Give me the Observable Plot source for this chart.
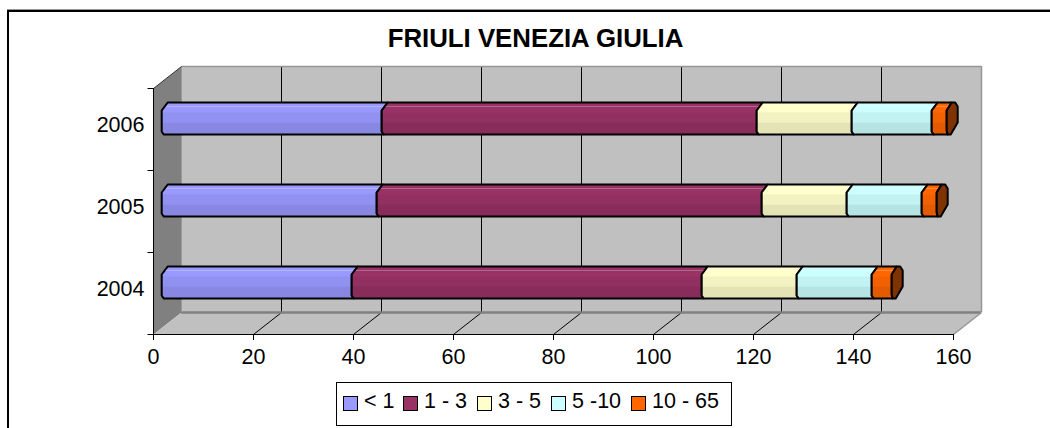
<!DOCTYPE html>
<html>
<head>
<meta charset="utf-8">
<script src="https://cdn.jsdelivr.net/npm/d3@7"></script>
<script src="https://cdn.jsdelivr.net/npm/@observablehq/plot@0.6"></script>
<style>
  html, body { margin: 0; padding: 0; background: #fff; overflow: hidden; }
  body { position: relative; width: 1050px; height: 428px; font-family: "Liberation Sans", Arial, sans-serif; color: #000; }
  #chart { position: absolute; left: 0; top: 0; }
  #frame { position: absolute; left: 7px; top: 9px; right: 0; bottom: 0; border-top: 1px solid #999; }
  #frame::before { content: ""; position: absolute; left: 0; top: 0; right: 0; bottom: 0; border-top: 2px solid #000; border-left: 2px solid #000; }
  h1 { position: absolute; left: 0; width: 1071px; top: 24px; margin: 0; text-align: center; font-size: 25.8px; line-height: 28px; font-weight: bold; }
  #legend { position: absolute; left: 336px; top: 382px; width: 396px; height: 44px; border: 1px solid #000; background: #fff; display: flex; padding: 6px 0 0 6px; box-sizing: border-box; align-items: flex-start; font-size: 21.5px; line-height: 24px; white-space: pre; }
  #legend i { display: block; width: 13px; height: 13px; border: 1.5px solid #000; margin: 7px 6px 0 0; flex: none; }
  #legend span { margin-right: 10px; }
  #legend span:first-of-type { margin-right: 8.5px; }
</style>
</head>
<body>
<div id="frame"></div>
<div id="chart"></div>
<h1>FRIULI VENEZIA GIULIA</h1>
<div id="legend"></div>
<script>
const years = ["2004", "2005", "2006"];
const ranges = ["< 1", "1 - 3", "3 - 5", "5 -10", "10 - 65"];
const under1 = [38, 43, 44];
const from1to3 = [70, 77, 75];
const from3to5 = [19, 17, 19];
const from5to10 = [15, 15, 16];
const from10to65 = [4, 3, 3];
const series = [under1, from1to3, from3to5, from5to10, from10to65];
const palette = ["#9999ff", "#993366", "#ffffcc", "#ccffff", "#ff6600"];
const capColor = "#7f3300";
const xTicks = [0, 20, 40, 60, 80, 100, 120, 140, 160];

// layout constants
const W = 1050, H = 428;
const pxLeft = 153, pxRight = 953, pxTop = 88, pxBottom = 334;
const kx = (pxRight - pxLeft) / 160;
const ky = (pxBottom - pxTop) / 3;
const depthX = 28 / kx, depthY = 22 / ky;
const barX = 8.2, barUp = 36;

const X = (v, off = 0) => v + (barX + off) / kx;
const Y = (row, up) => row + (barUp + up) / ky;
const poly = (pts, opts) => Plot.line(pts, {x: "x", y: "y", curve: "linear-closed", ...opts});
const shade = (c, f) => { const r = d3.rgb(c); return d3.rgb(r.r * f, r.g * f, r.b * f).formatHex(); };
const tint = (c, t) => d3.interpolateRgb(c, "#fff")(t);

const leftEdge = (v, row) => [
  {x: X(v, 6), y: Y(row, 32)}, {x: X(v, 0), y: Y(row, 24)},
  {x: X(v, 0), y: Y(row, 3)}, {x: X(v, 2), y: Y(row, 0)}
];

const bars = [];
years.forEach((_, row) => {
  let start = 0;
  series.forEach((s, k) => {
    const a = start, b = start + s[row];
    const c = palette[k];
    const last = k === series.length - 1;
    const rightEdge = last
      ? [{x: X(b, 1), y: Y(row, 0)}, {x: X(b, 0), y: Y(row, 4)}, {x: X(b, 0), y: Y(row, 24)}, {x: X(b, 5), y: Y(row, 32)}]
      : leftEdge(b, row).reverse();
    const outline = [...leftEdge(a, row), ...rightEdge];
    bars.push(poly(outline, {fill: c}));
    bars.push(poly([
      {x: X(a), y: Y(row, 22)}, {x: X(a), y: Y(row, 12)}, {x: X(b), y: Y(row, 12)}, {x: X(b), y: Y(row, 22)}
    ], {fill: shade(c, 0.95)}));
    bars.push(poly([
      {x: X(a), y: Y(row, 12)}, {x: X(a), y: Y(row, 3)}, {x: X(a, 2), y: Y(row, 0)},
      {x: X(b, 2), y: Y(row, 0)}, {x: X(b), y: Y(row, 3)}, {x: X(b), y: Y(row, 12)}
    ], {fill: shade(c, 0.89)}));
    bars.push(Plot.ruleY([Y(row, 28)], {x1: X(a, 4), x2: X(b, 3), stroke: tint(c, 0.25), strokeWidth: 1}));
    bars.push(poly(outline, {fill: "none", stroke: "#000", strokeWidth: 2, strokeLinejoin: "round"}));
    if (last) {
      bars.push(poly([
        {x: X(b, 5), y: Y(row, 32)}, {x: X(b, 8.5), y: Y(row, 32)}, {x: X(b, 11), y: Y(row, 28)},
        {x: X(b, 11), y: Y(row, 12)}, {x: X(b, 4), y: Y(row, 0)}, {x: X(b, 1), y: Y(row, 0)},
        {x: X(b, 0), y: Y(row, 4)}, {x: X(b, 0), y: Y(row, 24)}
      ], {fill: capColor, stroke: "#000", strokeWidth: 2, strokeLinejoin: "round"}));
    }
    start = b;
  });
});

const inner = xTicks.slice(1, -1);
const plot = Plot.plot({
  width: W, height: H,
  marginLeft: pxLeft, marginRight: W - pxRight, marginTop: pxTop, marginBottom: H - pxBottom,
  style: {fontFamily: '"Liberation Sans", Arial, sans-serif', background: "transparent", color: "#000"},
  x: {domain: [0, 160], ticks: xTicks},
  y: {domain: [0, 3]},
  marks: [
    // left wall
    poly([{x: 0, y: 0}, {x: depthX, y: depthY}, {x: depthX, y: 3 + depthY}, {x: 0, y: 3}], {fill: "#808080"}),
    // back wall
    poly([{x: depthX, y: depthY}, {x: 160 + depthX, y: depthY}, {x: 160 + depthX, y: 3 + depthY}, {x: depthX, y: 3 + depthY}], {fill: "#c0c0c0"}),
    // floor
    poly([{x: 0, y: 0}, {x: 160, y: 0}, {x: 160 + depthX, y: depthY}, {x: depthX, y: depthY}], {fill: "#c0c0c0"}),
    // grid on wall and floor
    Plot.ruleX(inner, {x: d => d + depthX, y1: depthY, y2: 3 + depthY, stroke: "#000", strokeWidth: 1}),
    Plot.link(inner, {x1: d => d, y1: 0, x2: d => d + depthX, y2: depthY, stroke: "#000", strokeWidth: 1}),
    // wall edges
    Plot.ruleY([depthY], {x1: depthX, x2: 160 + depthX, stroke: "#808080", strokeWidth: 2.5}),
    Plot.ruleY([3 + depthY], {x1: depthX, x2: 160 + depthX, stroke: "#969696", strokeWidth: 1.5}),
    Plot.ruleX([160 + depthX], {y1: depthY, y2: 3 + depthY, stroke: "#969696", strokeWidth: 1.5}),
    Plot.ruleX([depthX], {y1: depthY, y2: 3 + depthY, stroke: "#999", strokeWidth: 1}),
    Plot.link([160], {x1: d => d, y1: 0, x2: d => d + depthX, y2: depthY, stroke: "#969696", strokeWidth: 1.5}),
    Plot.link([0], {x1: d => d, y1: 3, x2: d => d + depthX, y2: 3 + depthY, stroke: "#333", strokeWidth: 1}),
    // bars
    ...bars,
    // axes
    Plot.ruleY([0], {x1: 0, x2: 160, stroke: "#000", strokeWidth: 1}),
    Plot.ruleX([0], {y1: 0, y2: 3, stroke: "#000", strokeWidth: 1}),
    Plot.axisX({ticks: xTicks, tickSize: 6, tickPadding: 8, fontSize: 21.5, label: null, anchor: "bottom", tickFormat: d => String(d)}),
    Plot.axisY({ticks: [0, 1, 2, 3], tickSize: 5.5, tickFormat: () => "", label: null, anchor: "left"}),
    Plot.axisY({ticks: [0.5, 1.5, 2.5], tickSize: 0, tickPadding: 9, fontSize: 21.5, label: null, anchor: "left", dy: -4, tickFormat: d => years[d - 0.5]})
  ]
});
document.getElementById("chart").appendChild(plot);

const legend = document.getElementById("legend");
ranges.forEach((r, i) => {
  const sw = document.createElement("i");
  sw.style.background = palette[i];
  const t = document.createElement("span");
  t.textContent = r;
  legend.append(sw, t);
});
</script>
</body>
</html>
